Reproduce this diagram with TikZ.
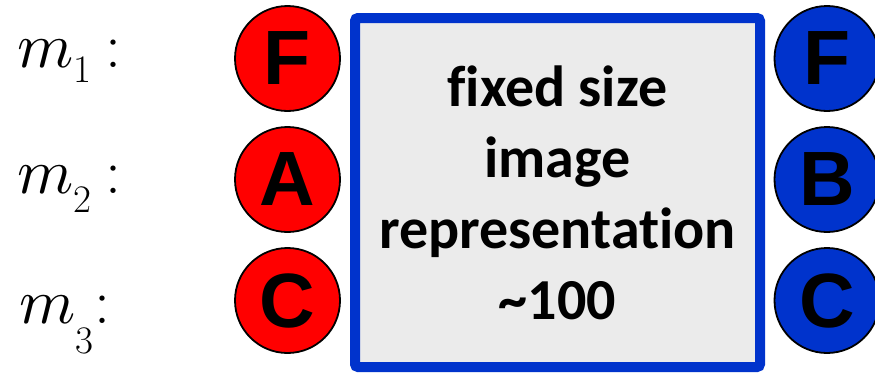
\documentclass[tikz,border=0pt]{standalone}
\usepackage{fontspec}
\newfontfamily\boxfont[Ligatures=NoCommon]{Carlito}
\newfontfamily\ballfont{Liberation Sans}

% cursiva matematica escalable
\DeclareFontShape{OML}{cmm}{m}{it}{<->cmmi10}{}

\definecolor{ballred}{HTML}{FF0000}
\definecolor{ballblue}{HTML}{0033CC}
\definecolor{boxblue}{HTML}{0033CC}
\definecolor{boxgray}{HTML}{EBEBEB}

% tamano de los subindices
\newcommand{\subsz}{\fontsize{39}{39}\selectfont}

\tikzset{
    ball/.style={circle, draw=black, line width=1.8pt, minimum size=105pt,
            inner sep=0pt, font=\ballfont\bfseries\fontsize{77}{77}\selectfont},
    redball/.style={ball, fill=ballred},
    blueball/.style={ball, fill=ballblue},
    mlabel/.style={anchor=base west, inner sep=0pt,
            font=\fontsize{64}{64}\selectfont},
    repbox/.style={draw=boxblue, fill=boxgray, line width=10pt,
            rounded corners=3pt, minimum width=405pt, minimum height=349pt,
            align=center, font=\boxfont\bfseries\fontsize{58}{71}\selectfont},
}

\begin{document}
\begin{tikzpicture}[x=1pt, y=-1pt]

        \useasboundingbox (0,0) rectangle (875,372);

        % ===============================
        % Etiquetas de los modelos
        % ===============================
        \node[mlabel] (m1) at (17,67)  {$m$\raisebox{-15pt}{\subsz 1}\hspace{14pt}:};
        \node[mlabel] (m2) at (17,193) {$m$\raisebox{-19pt}{\subsz 2}\hspace{14pt}:};
        \node[mlabel] (m3) at (19,323) {$m$\raisebox{-30pt}{\subsz 3}\hspace{1pt}:};

        % ===============================
        % Representacion de tamano fijo
        % ===============================
        \node[repbox] (rep) at (557.5,192.5)
        {fixed size\\image\\representation\\\textasciitilde100};

        % ===============================
        % Clases: entrada (rojo) y salida (azul)
        % ===============================
        \foreach \l/\i in {F/1, A/2, C/3}{
                \node[redball] (in\i) at (287.5,{58.5+121*(\i-1)}) {\l};
            }

        \foreach \l/\i in {F/1, B/2, C/3}{
                \node[blueball] (out\i) at (827,{58.5+121*(\i-1)}) {\l};
            }

    \end{tikzpicture}
\end{document}
